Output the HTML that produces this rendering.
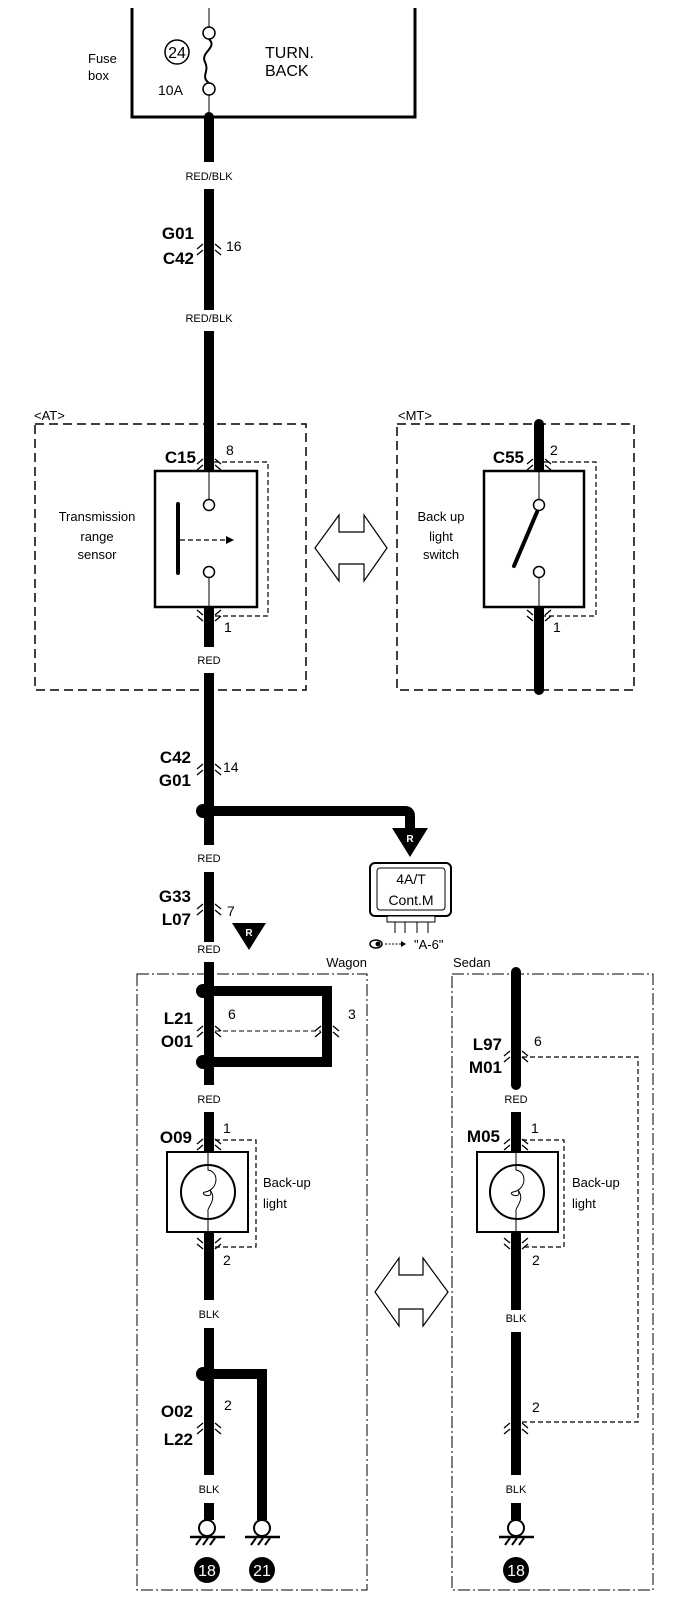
<!DOCTYPE html>
<html><head><meta charset="utf-8"><style>
html,body{margin:0;padding:0;background:#fff;}
svg{display:block;}
text{font-family:"Liberation Sans",Arial,sans-serif;fill:#000;}
.b{font-weight:bold;font-size:17px;}
.w{font-size:11px;}
.n{font-size:14px;}
.t{font-size:13px;}
</style></head><body>
<svg width="688" height="1606" viewBox="0 0 688 1606" xmlns="http://www.w3.org/2000/svg">
<defs>
<g id="ch"><path d="M-12 4 L-6 -1 M-12 10 L-6 5 M12 4 L6 -1 M12 10 L6 5" stroke="#000" stroke-width="1.3" fill="none"/></g>
<g id="ch2"><path d="M-12 -4 L-6 1 M-12 -10 L-6 -5 M12 -4 L6 1 M12 -10 L6 -5" stroke="#000" stroke-width="1.3" fill="none"/></g>
</defs>
<!-- Fuse box -->
<path d="M132 8 V117 H415 V8" fill="none" stroke="#000" stroke-width="3"/>
<text x="88" y="63" class="t">Fuse</text><text x="88" y="80" class="t">box</text>
<circle cx="177" cy="52" r="12" fill="none" stroke="#000" stroke-width="1.5"/>
<text x="177" y="58" class="n" text-anchor="middle" style="font-size:16px">24</text>
<text x="158" y="95" class="n">10A</text>
<text x="265" y="58" class="n" style="font-size:16px">TURN.</text>
<text x="265" y="76" class="n" style="font-size:16px">BACK</text>
<line x1="209" y1="8" x2="209" y2="27" stroke="#000" stroke-width="1"/>
<circle cx="209" cy="33" r="6" fill="#fff" stroke="#000" stroke-width="1.5"/>
<path d="M209 39 C218 48 200 52 205 62 C210 72 200 76 209 83" fill="none" stroke="#000" stroke-width="2"/>
<circle cx="209" cy="89" r="6" fill="#fff" stroke="#000" stroke-width="1.5"/>
<line x1="209" y1="95" x2="209" y2="117" stroke="#000" stroke-width="1"/>

<g stroke="#000" stroke-width="10" fill="none">
<line x1="209" y1="116" x2="209" y2="162"/>
<line x1="209" y1="189" x2="209" y2="310"/>
<line x1="209" y1="331" x2="209" y2="471"/>
<line x1="209" y1="604" x2="209" y2="647"/>
<line x1="209" y1="673" x2="209" y2="845"/>
<path d="M209 811 H405 Q410 811 410 816 V830"/>
<line x1="209" y1="872" x2="209" y2="942"/>
<line x1="209" y1="962" x2="209" y2="1085"/>
<path d="M209 991 H327 V1062 H209"/>
<line x1="209" y1="1112" x2="209" y2="1152"/>
<line x1="209" y1="1234" x2="209" y2="1300"/>
<line x1="209" y1="1328" x2="209" y2="1475"/>
<path d="M209 1374 H262 V1520"/>
<line x1="209" y1="1503" x2="209" y2="1520"/>
<line x1="539" y1="424" x2="539" y2="471" stroke-linecap="round"/>
<line x1="539" y1="604" x2="539" y2="690" stroke-linecap="round"/>
<line x1="516" y1="972" x2="516" y2="1085" stroke-linecap="round"/>
<line x1="516" y1="1112" x2="516" y2="1152"/>
<line x1="516" y1="1234" x2="516" y2="1310"/>
<line x1="516" y1="1332" x2="516" y2="1475"/>
<line x1="516" y1="1503" x2="516" y2="1520"/>
</g>
<g fill="#000">
<circle cx="209" cy="117" r="5"/><circle cx="209" cy="471" r="5"/><circle cx="209" cy="604" r="5"/>
<circle cx="203" cy="811" r="7"/><circle cx="203" cy="991" r="7"/><circle cx="203" cy="1062" r="7"/><circle cx="203" cy="1374" r="7"/>
<circle cx="209" cy="1152" r="5"/><circle cx="209" cy="1234" r="5"/>
<circle cx="516" cy="1152" r="5"/><circle cx="516" cy="1234" r="5"/>
<circle cx="539" cy="471" r="5"/><circle cx="539" cy="604" r="5"/>
</g>
<text x="209" y="180" class="w" text-anchor="middle">RED/BLK</text>
<text x="194" y="239" class="b" text-anchor="end">G01</text>
<text x="194" y="264" class="b" text-anchor="end">C42</text>
<use href="#ch" x="209" y="245"/>
<text x="226" y="251" class="n">16</text>
<text x="209" y="322" class="w" text-anchor="middle">RED/BLK</text>

<!-- AT -->
<text x="34" y="420" class="t">&lt;AT&gt;</text>
<rect x="35" y="424" width="271" height="266" fill="none" stroke="#000" stroke-width="1.5" stroke-dasharray="9,5"/>
<text x="196" y="463" class="b" text-anchor="end">C15</text>
<text x="226" y="455" class="n">8</text>
<use href="#ch" x="209" y="460"/>
<path d="M214 462 H268 V616 H214" fill="none" stroke="#000" stroke-width="1.2" stroke-dasharray="5,3"/>
<rect x="155" y="471" width="102" height="136" fill="#fff" stroke="#000" stroke-width="2.5"/>
<line x1="209" y1="471" x2="209" y2="500" stroke="#000"/>
<circle cx="209" cy="505" r="5.5" fill="#fff" stroke="#000" stroke-width="1.5"/>
<circle cx="209" cy="572" r="5.5" fill="#fff" stroke="#000" stroke-width="1.5"/>
<line x1="209" y1="578" x2="209" y2="607" stroke="#000"/>
<line x1="178" y1="504" x2="178" y2="573" stroke="#000" stroke-width="4" stroke-linecap="round"/>
<line x1="180" y1="540" x2="226" y2="540" stroke="#000" stroke-width="1.3" stroke-dasharray="5,3"/>
<path d="M226 536 L234 540 L226 544Z" fill="#000"/>
<text x="97" y="521" class="t" text-anchor="middle">Transmission</text>
<text x="97" y="541" class="t" text-anchor="middle">range</text>
<text x="97" y="559" class="t" text-anchor="middle">sensor</text>
<use href="#ch2" x="209" y="620"/>
<text x="224" y="632" class="n">1</text>
<text x="209" y="664" class="w" text-anchor="middle">RED</text>

<path d="M315 548 L339 515 V532 H364 V515 L387 548 L364 581 V564 H339 V581 Z" fill="#fff" stroke="#000" stroke-width="1.2"/>

<!-- MT -->
<text x="398" y="420" class="t">&lt;MT&gt;</text>
<rect x="397" y="424" width="237" height="266" fill="none" stroke="#000" stroke-width="1.5" stroke-dasharray="9,5"/>
<text x="524" y="463" class="b" text-anchor="end">C55</text>
<text x="550" y="455" class="n">2</text>
<use href="#ch" x="539" y="460"/>
<path d="M544 462 H596 V616 H544" fill="none" stroke="#000" stroke-width="1.2" stroke-dasharray="5,3"/>
<rect x="484" y="471" width="100" height="136" fill="#fff" stroke="#000" stroke-width="2.5"/>
<line x1="539" y1="471" x2="539" y2="500" stroke="#000"/>
<circle cx="539" cy="505" r="5.5" fill="#fff" stroke="#000" stroke-width="1.5"/>
<circle cx="539" cy="572" r="5.5" fill="#fff" stroke="#000" stroke-width="1.5"/>
<line x1="539" y1="578" x2="539" y2="607" stroke="#000"/>
<line x1="537" y1="512" x2="514" y2="566" stroke="#000" stroke-width="4" stroke-linecap="round"/>
<text x="441" y="521" class="t" text-anchor="middle">Back up</text>
<text x="441" y="541" class="t" text-anchor="middle">light</text>
<text x="441" y="559" class="t" text-anchor="middle">switch</text>
<use href="#ch2" x="539" y="620"/>
<text x="553" y="632" class="n">1</text>

<!-- middle -->
<text x="191" y="763" class="b" text-anchor="end">C42</text>
<text x="191" y="786" class="b" text-anchor="end">G01</text>
<use href="#ch" x="209" y="765"/>
<text x="223" y="772" class="n">14</text>
<path d="M392 828 H428 L410 857Z" fill="#000"/>
<text x="410" y="842" text-anchor="middle" style="font-size:10px;font-weight:bold;fill:#fff">R</text>
<text x="209" y="862" class="w" text-anchor="middle">RED</text>
<text x="191" y="902" class="b" text-anchor="end">G33</text>
<text x="191" y="925" class="b" text-anchor="end">L07</text>
<use href="#ch" x="209" y="905"/>
<text x="227" y="916" class="n">7</text>
<path d="M232 923 H266 L249 950Z" fill="#000"/>
<text x="249" y="936" text-anchor="middle" style="font-size:10px;font-weight:bold;fill:#fff">R</text>
<text x="209" y="953" class="w" text-anchor="middle">RED</text>
<rect x="370" y="863" width="81" height="53" rx="5" fill="#fff" stroke="#000" stroke-width="2"/>
<rect x="377" y="868" width="68" height="42" rx="3" fill="none" stroke="#000" stroke-width="1"/>
<text x="411" y="884" text-anchor="middle" style="font-size:14px">4A/T</text>
<text x="411" y="905" text-anchor="middle" style="font-size:14px">Cont.M</text>
<rect x="387" y="916" width="48" height="6" fill="#fff" stroke="#000" stroke-width="1"/>
<path d="M395 922V933M405 922V933M417 922V933M428 922V933" stroke="#000" stroke-width="1"/>
<ellipse cx="376" cy="944" rx="6" ry="4" fill="none" stroke="#000" stroke-width="1.5"/>
<circle cx="378" cy="944" r="2.5" fill="#000"/>
<line x1="385" y1="944" x2="402" y2="944" stroke="#000" stroke-dasharray="2,1.5"/>
<path d="M401 941 L406 944 L401 947Z" fill="#000"/>
<text x="414" y="949" class="t">"A-6"</text>

<!-- Wagon -->
<text x="367" y="967" class="t" text-anchor="end">Wagon</text>
<rect x="137" y="974" width="230" height="616" fill="none" stroke="#000" stroke-width="1" stroke-dasharray="12,3,2,3"/>
<text x="193" y="1024" class="b" text-anchor="end">L21</text>
<text x="193" y="1047" class="b" text-anchor="end">O01</text>
<use href="#ch" x="209" y="1027"/>
<use href="#ch" x="327" y="1027"/>
<line x1="215" y1="1031" x2="321" y2="1031" stroke="#000" stroke-dasharray="5,3"/>
<text x="228" y="1019" class="n">6</text>
<text x="348" y="1019" class="n">3</text>
<text x="209" y="1103" class="w" text-anchor="middle">RED</text>
<text x="192" y="1143" class="b" text-anchor="end">O09</text>
<text x="223" y="1133" class="n">1</text>
<use href="#ch" x="209" y="1140"/>
<path d="M215 1140 H256 V1247 H215" fill="none" stroke="#000" stroke-width="1.2" stroke-dasharray="5,3"/>
<rect x="167" y="1152" width="81" height="80" fill="#fff" stroke="#000" stroke-width="2"/>
<circle cx="208" cy="1192" r="27" fill="none" stroke="#000" stroke-width="2"/>
<path d="M208 1152 V1170 C220 1172 218 1190 205 1192 C198 1194 215 1200 210 1190 C218 1200 206 1208 208 1212 V1232" fill="none" stroke="#000" stroke-width="1"/>
<text x="263" y="1187" class="t">Back-up</text>
<text x="263" y="1208" class="t">light</text>
<use href="#ch2" x="209" y="1248"/>
<text x="223" y="1265" class="n">2</text>
<text x="209" y="1318" class="w" text-anchor="middle">BLK</text>
<text x="193" y="1417" class="b" text-anchor="end">O02</text>
<text x="193" y="1445" class="b" text-anchor="end">L22</text>
<use href="#ch" x="209" y="1424"/>
<text x="224" y="1410" class="n">2</text>
<text x="209" y="1493" class="w" text-anchor="middle">BLK</text>

<!-- double arrow 2 -->
<path d="M375 1292 L399 1258 V1275 H423 V1258 L448 1292 L423 1326 V1309 H399 V1326 Z" fill="#fff" stroke="#000" stroke-width="1.2"/>

<!-- Sedan -->
<text x="453" y="967" class="t">Sedan</text>
<rect x="452" y="974" width="201" height="616" fill="none" stroke="#000" stroke-width="1" stroke-dasharray="12,3,2,3"/>
<text x="502" y="1050" class="b" text-anchor="end">L97</text>
<text x="502" y="1073" class="b" text-anchor="end">M01</text>
<use href="#ch" x="516" y="1052"/>
<text x="534" y="1046" class="n">6</text>
<path d="M522 1057 H638 V1422 H522" fill="none" stroke="#000" stroke-width="1.2" stroke-dasharray="5,3"/>
<text x="516" y="1103" class="w" text-anchor="middle">RED</text>
<text x="500" y="1142" class="b" text-anchor="end">M05</text>
<text x="531" y="1133" class="n">1</text>
<use href="#ch" x="516" y="1140"/>
<path d="M522 1140 H564 V1247 H522" fill="none" stroke="#000" stroke-width="1.2" stroke-dasharray="5,3"/>
<rect x="477" y="1152" width="81" height="80" fill="#fff" stroke="#000" stroke-width="2"/>
<circle cx="517" cy="1192" r="27" fill="none" stroke="#000" stroke-width="2"/>
<path d="M516 1152 V1170 C528 1172 526 1190 513 1192 C506 1194 523 1200 518 1190 C526 1200 514 1208 516 1212 V1232" fill="none" stroke="#000" stroke-width="1"/>
<text x="572" y="1187" class="t">Back-up</text>
<text x="572" y="1208" class="t">light</text>
<use href="#ch2" x="516" y="1248"/>
<text x="532" y="1265" class="n">2</text>
<text x="516" y="1322" class="w" text-anchor="middle">BLK</text>
<use href="#ch" x="516" y="1424"/>
<text x="532" y="1412" class="n">2</text>
<text x="516" y="1493" class="w" text-anchor="middle">BLK</text>

<!-- grounds -->
<g id="gnd">
<circle cx="207" cy="1528" r="8" fill="#fff" stroke="#000" stroke-width="2"/>
<line x1="190" y1="1537" x2="225" y2="1537" stroke="#000" stroke-width="2.5"/>
<path d="M196 1545 L201 1538 M203 1545 L208 1538 M210 1545 L215 1538" stroke="#000" stroke-width="2"/>
<circle cx="207" cy="1570" r="13" fill="#000"/>
</g>
<text x="207" y="1576" text-anchor="middle" style="font-size:16px;fill:#fff">18</text>
<use href="#gnd" x="55"/>
<text x="262" y="1576" text-anchor="middle" style="font-size:16px;fill:#fff">21</text>
<use href="#gnd" x="309"/>
<text x="516" y="1576" text-anchor="middle" style="font-size:16px;fill:#fff">18</text>
</svg>
</body></html>
